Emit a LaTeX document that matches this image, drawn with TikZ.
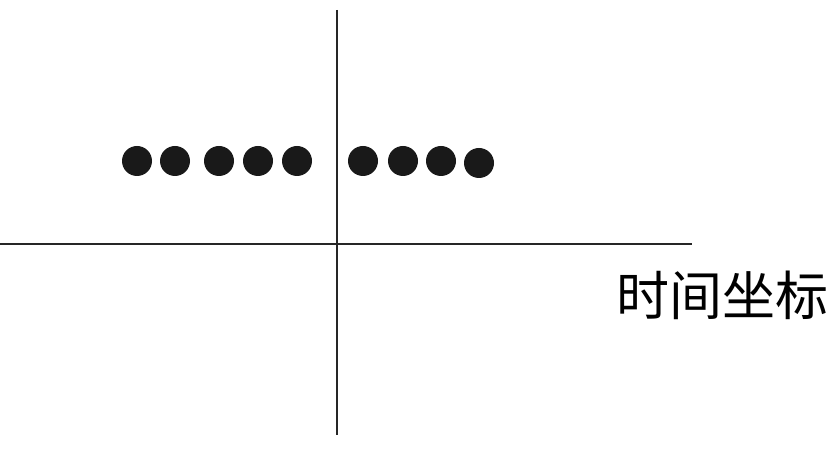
\documentclass[tikz,border=0pt]{standalone}
\usepackage{fontspec}
\newfontfamily\cjk{Noto Sans CJK SC}
\begin{document}
\begin{tikzpicture}[x=1pt, y=1pt,
    dot/.style={circle, fill=black!90, inner sep=0pt, minimum size=30pt},
    axis/.style={line width=2.2pt, black!85}]
  \useasboundingbox (0, 0) rectangle (831, 450);
  \coordinate (vtop) at (337, 440);
  \coordinate (vbot) at (337, 15);
  \coordinate (hleft) at (0, 206);
  \coordinate (hright) at (692, 206);
  \draw[axis] (vtop) -- (vbot);
  \draw[axis] (hleft) -- (hright);
  \node [dot] (l1) at (137, 289) {};
  \node [dot] (l2) at (175, 289) {};
  \node [dot] (l3) at (219, 289) {};
  \node [dot] (l4) at (258, 289) {};
  \node [dot] (l5) at (297, 289) {};
  \node [dot] (r1) at (363, 289) {};
  \node [dot] (r2) at (403, 289) {};
  \node [dot] (r3) at (441, 289) {};
  \node [dot] (r4) at (479, 287) {};
  \node [inner sep=0pt] (label) at (722, 155) {\cjk\fontsize{53}{53}\selectfont 时间坐标};
\end{tikzpicture}
\end{document}
